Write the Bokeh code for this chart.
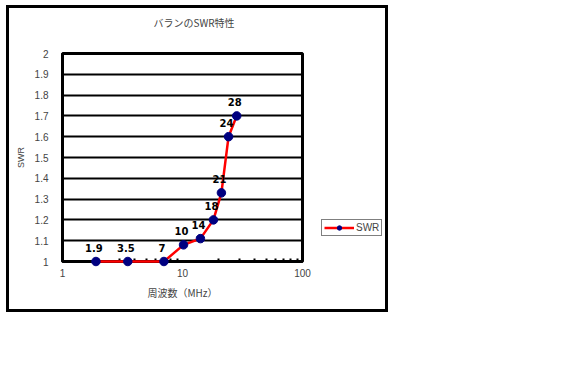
from bokeh.plotting import figure
from bokeh.layouts import row
from bokeh.models import (ColumnDataSource, FixedTicker, Legend, LegendItem,
                          CustomJSTickFormatter, Range1d)
from bokeh.embed import file_html
from bokeh.resources import INLINE
from bokeh.core.properties import value

title = "バランのSWR特性"
x_label = "周波数（MHz）"
y_label = "SWR"
series_name = "SWR"
freq = [1.9, 3.5, 7.0, 10.2, 14.1, 18.1, 21.1, 24.2, 28.3]
swr = [1.0, 1.0, 1.0, 1.08, 1.11, 1.2, 1.33, 1.6, 1.7]
point_labels = ["1.9", "3.5", "7", "10", "14", "18", "21", "24", "28"]
y_ticks = [1.0, 1.1, 1.2, 1.3, 1.4, 1.5, 1.6, 1.7, 1.8, 1.9, 2.0]
x_ticks = [1, 10, 100]
x_minor = [2, 3, 4, 5, 6, 7, 8, 9, 20, 30, 40, 50, 60, 70, 80, 90]

JP = "Noto Sans CJK JP"
NUM = "Liberation Sans"
BORDER = "3px solid black"

p = figure(width=308, height=307, x_axis_type="log",
           x_range=Range1d(1, 100), y_range=Range1d(1, 2),
           output_backend="svg", toolbar_location=None,
           min_border_left=53, min_border_right=15, min_border_top=0, min_border_bottom=54,
           styles={"border-left": BORDER, "border-top": BORDER, "border-bottom": BORDER,
                   "margin-left": "6px", "margin-top": "5px"})
p.background_fill_color = "white"
p.border_fill_color = "white"
p.outline_line_color = "black"
p.outline_line_width = 3

p.title.text = title + "\n"
p.title.text_font = JP
p.title.text_font_size = "10px"
p.title.text_font_style = "normal"
p.title.align = "left"
p.title.offset = 91
p.title.standoff = 13
p.title.vertical_align = "top"

# grid
p.xgrid.grid_line_color = None
p.ygrid.grid_line_color = "black"
p.ygrid.grid_line_width = 2
p.ygrid.ticker = FixedTicker(ticks=y_ticks)

# y axis
p.yaxis.ticker = FixedTicker(ticks=y_ticks)
p.yaxis.formatter = CustomJSTickFormatter(code="return (Math.round(tick*10)/10).toString();")
p.yaxis.axis_line_width = 3
p.yaxis.major_tick_line_color = None
p.yaxis.minor_tick_line_color = None
p.yaxis.major_label_text_font = NUM
p.yaxis.major_label_text_font_size = "10px"
p.yaxis.major_label_standoff = 8
p.yaxis.axis_label = y_label
p.yaxis.axis_label_text_font = NUM
p.yaxis.axis_label_text_font_size = "9px"
p.yaxis.axis_label_text_font_style = "normal"
p.yaxis.axis_label_standoff = 6

# x axis
p.xaxis.ticker = FixedTicker(ticks=x_ticks, minor_ticks=x_minor)
p.xaxis.formatter = CustomJSTickFormatter(code="return tick.toString();")
p.xaxis.axis_line_width = 3
p.xaxis.major_tick_in = 0
p.xaxis.major_tick_out = 0
p.xaxis.minor_tick_in = 3
p.xaxis.minor_tick_out = 0
p.xaxis.minor_tick_line_width = 2
p.xaxis.major_label_text_font = NUM
p.xaxis.major_label_text_font_size = "10px"
p.xaxis.major_label_standoff = 7
p.xaxis.axis_label = x_label
p.xaxis.axis_label_text_font = JP
p.xaxis.axis_label_text_font_size = "10px"
p.xaxis.axis_label_text_font_style = "normal"
p.xaxis.axis_label_standoff = 5

src = ColumnDataSource(dict(x=freq, y=swr, lab=point_labels))
ln = p.line("x", "y", source=src, line_color="red", line_width=2.5, level="overlay")
sc = p.scatter("x", "y", source=src, size=8.5, marker="circle",
               fill_color="#000080", line_color="#000080", level="overlay")

p.text("x", "y", text="lab", source=src, x_offset=-2, y_offset=-10,
       text_align="center", text_baseline="bottom",
       text_font=value("DejaVu Sans"), text_font_size="10px",
       text_font_style="bold", text_color="black", level="overlay")

# legend panel (right part of the chart box); its renderers fall outside its ranges
p2 = figure(width=74, height=307, x_range=Range1d(0, 1), y_range=Range1d(0, 0.5),
            output_backend="svg", toolbar_location=None,
            x_axis_location=None, y_axis_location=None,
            min_border_left=0, min_border_right=0, min_border_top=0, min_border_bottom=0,
            styles={"border-right": BORDER, "border-top": BORDER, "border-bottom": BORDER,
                    "margin-top": "5px"})
p2.grid.visible = False
p2.outline_line_color = None
p2.background_fill_color = "white"
p2.border_fill_color = "white"
ln2 = p2.line("x", "y", source=src, line_color="red", line_width=2.5)
sc2 = p2.scatter("x", "y", source=src, size=8, marker="circle",
                 fill_color="#000080", line_color="#000080")
legend = Legend(items=[LegendItem(label=series_name, renderers=[ln2, sc2])],
                location=(7, 25), orientation="vertical",
                border_line_color="black", border_line_width=1,
                label_text_font=NUM, label_text_font_size="10px",
                padding=2, margin=0, spacing=0, glyph_width=30, glyph_height=11,
                label_standoff=2, label_height=11, background_fill_alpha=1)
p2.add_layout(legend, "center")

layout = row(p, p2, spacing=0)
open("out.html", "w").write(file_html(layout, INLINE))
